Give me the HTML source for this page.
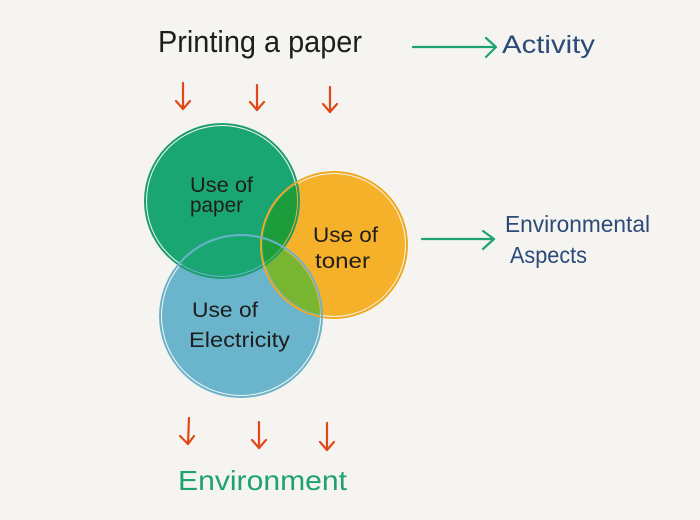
<!DOCTYPE html>
<html>
<head>
<meta charset="utf-8">
<style>
html,body{margin:0;padding:0;background:#f5f4f0;}
svg{display:block;}
text{font-family:"Liberation Sans","DejaVu Sans",sans-serif;}
</style>
</head>
<body>
<svg width="700" height="520" viewBox="0 0 700 520" xmlns="http://www.w3.org/2000/svg">
<defs>
  <clipPath id="clipOrange"><circle cx="334" cy="245" r="71"/></clipPath>
</defs>
<rect width="700" height="520" fill="#f5f4f0"/>

<!-- Title -->
<text x="158" y="52" font-size="31" fill="#1e1e1e" textLength="204" lengthAdjust="spacingAndGlyphs">Printing a paper</text>

<!-- green arrow to Activity -->
<g stroke="#1fa273" stroke-width="2.2" fill="none" stroke-linecap="round" stroke-linejoin="round">
  <line x1="413" y1="47" x2="495" y2="47"/>
  <polyline points="486,38 496,47 486,57"/>
</g>
<text x="502" y="53" font-size="25" fill="#2c4a78" textLength="93" lengthAdjust="spacingAndGlyphs">Activity</text>

<!-- top red arrows -->
<g stroke="#e0481a" stroke-width="2.2" fill="none" stroke-linecap="round" stroke-linejoin="round">
  <line x1="183" y1="83" x2="183" y2="109"/>
  <polyline points="176,101 183,109 190,101"/>
  <line x1="257" y1="85" x2="257" y2="110"/>
  <polyline points="250,102 257,110 264,102"/>
  <line x1="330" y1="87" x2="330" y2="112"/>
  <polyline points="323,104 330,112 337,104"/>
</g>

<!-- circles fills -->
<circle cx="334" cy="245" r="71" fill="#f5b12a"/>
<circle cx="241" cy="316" r="79" fill="#6ab5cb"/>
<circle cx="241" cy="316" r="79" fill="#78b632" clip-path="url(#clipOrange)"/>
<circle cx="222" cy="201" r="75" fill="#1aa673"/>
<circle cx="222" cy="201" r="75" fill="#1d9c3c" clip-path="url(#clipOrange)"/>

<!-- outlines -->
<circle cx="222" cy="201" r="77" fill="none" stroke="#1a9e6c" stroke-width="2"/>
<circle cx="334" cy="245" r="73" fill="none" stroke="#f0a91e" stroke-width="2"/>
<circle cx="241" cy="316" r="81" fill="none" stroke="#6ab3cc" stroke-width="2"/>

<!-- circle labels -->
<g fill="#1e1e1e" font-size="21">
  <text x="190" y="192" textLength="63" lengthAdjust="spacingAndGlyphs">Use of</text>
  <text x="190" y="212" textLength="53" lengthAdjust="spacingAndGlyphs">paper</text>
  <text x="313" y="242" textLength="65" lengthAdjust="spacingAndGlyphs">Use of</text>
  <text x="315" y="268" textLength="55" lengthAdjust="spacingAndGlyphs">toner</text>
  <text x="192" y="317" textLength="66" lengthAdjust="spacingAndGlyphs">Use of</text>
  <text x="189" y="347" textLength="101" lengthAdjust="spacingAndGlyphs">Electricity</text>
</g>

<!-- green arrow to Environmental Aspects -->
<g stroke="#1fa273" stroke-width="2.2" fill="none" stroke-linecap="round" stroke-linejoin="round">
  <line x1="422" y1="239" x2="494" y2="239"/>
  <polyline points="483,231 494,239 483,249"/>
</g>
<text x="505" y="232" font-size="23" fill="#2c4a78" textLength="145" lengthAdjust="spacingAndGlyphs">Environmental</text>
<text x="510" y="263" font-size="23" fill="#2c4a78" textLength="77" lengthAdjust="spacingAndGlyphs">Aspects</text>

<!-- bottom red arrows -->
<g stroke="#e0481a" stroke-width="2.2" fill="none" stroke-linecap="round" stroke-linejoin="round">
  <line x1="189" y1="418" x2="188" y2="444"/>
  <polyline points="180,436 188,444 194,436"/>
  <line x1="259" y1="422" x2="259" y2="448"/>
  <polyline points="252,440 259,448 266,440"/>
  <line x1="327" y1="423" x2="327" y2="450"/>
  <polyline points="320,442 327,450 334,442"/>
</g>

<text x="178" y="490" font-size="28" fill="#1fa273" textLength="169" lengthAdjust="spacingAndGlyphs">Environment</text>
</svg>
</body>
</html>
